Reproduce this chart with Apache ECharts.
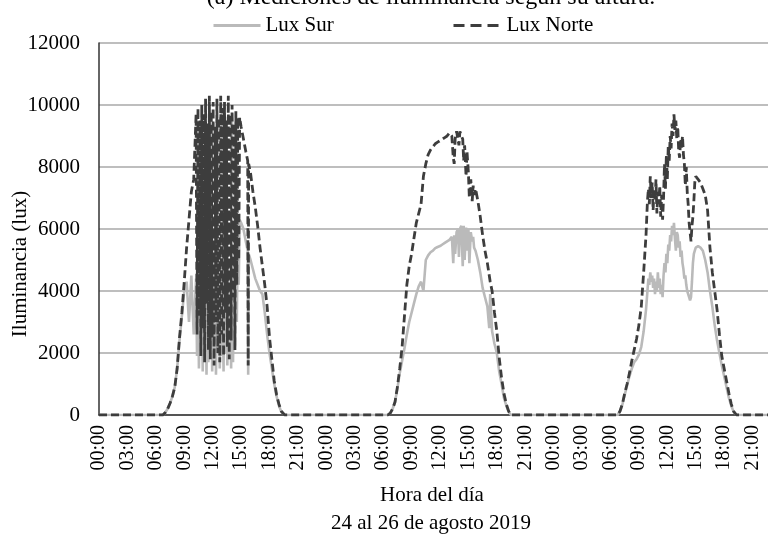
<!DOCTYPE html>
<html>
<head>
<meta charset="utf-8">
<script src="https://cdn.jsdelivr.net/npm/echarts@6/dist/echarts.min.js"></script>
<style>html,body{margin:0;padding:0;background:#fff;}#c{width:768px;height:540px;}</style>
</head>
<body>
<div id="c"></div>
<script>
// ---- data (hours of each day, lux values) ----
const seriesNames = ['Lux Sur', 'Lux Norte'];
const dayOffsets = [0, 24, 48];

const day1Hours = [6.75, 7.0, 7.25, 7.5, 7.75, 8.0, 8.25, 8.5, 8.75, 9.0, 9.25, 9.5, 9.75, 10.0, 10.25,
  10.35, 10.45, 10.55, 10.65, 10.75, 10.85, 10.95, 11.05, 11.15, 11.25, 11.35, 11.45, 11.55, 11.65, 11.75,
  11.85, 11.95, 12.05, 12.15, 12.25, 12.35, 12.45, 12.55, 12.65, 12.75, 12.85, 12.95, 13.05, 13.15, 13.25,
  13.35, 13.45, 13.55, 13.65, 13.75, 13.85, 13.95, 14.05, 14.15, 14.25, 14.35, 14.45, 14.55, 14.65, 14.75, 14.85,
  15.0, 15.25, 15.5, 15.7, 15.75, 15.8, 16.0, 16.25, 16.5, 16.75, 17.0, 17.25, 17.5, 17.75, 18.0, 18.25,
  18.5, 18.75, 19.0, 19.25, 19.6];
const day1Norte = [0, 80, 200, 380, 600, 900, 1500, 2500, 3300, 4300, 5400, 6300, 7200, 7600, 9700,
  2600, 9900, 3200, 9500, 1900, 10000, 2800, 9700, 1700, 10200, 3600, 9400, 2100, 10300, 1800,
  9800, 2500, 10100, 1600, 9300, 3000, 10200, 2000, 9600, 1700, 10300, 2600, 9900, 1900, 10100,
  3300, 9500, 2200, 10300, 1800, 9700, 2400, 10000, 3800, 9400, 2100, 9800, 4200, 9600, 5000, 9600,
  9300, 8900, 8500, 8200, 1600, 8100, 7800, 7200, 6700, 6100, 5400, 4800, 4200, 3500, 2500, 1800,
  1100, 650, 350, 120, 0];
const day1Sur = [0, 80, 200, 380, 600, 900, 1500, 2400, 3200, 4000, 4300, 3000, 4500, 2600, 4400,
  1900, 4400, 1500, 4000, 2300, 4600, 1400, 3800, 2000, 4300, 1300, 5200, 1700, 3900, 2100,
  4500, 1400, 3600, 1800, 5000, 1300, 4200, 2200, 5400, 1500, 3900, 1900, 4700, 1400, 5500,
  2000, 4100, 1600, 4800, 1800, 3700, 1500, 9600, 1700, 5000, 2200, 5600, 3000, 6000, 4200, 6300,
  6200, 6000, 5600, 5300, 1300, 5200, 5000, 4700, 4400, 4200, 4000, 3900, 3300, 2600, 2000, 1500,
  1000, 600, 300, 100, 0];

const day2Hours = [6.5, 6.75, 7.0, 7.25, 7.5, 7.75, 8.0, 8.25, 8.5, 8.75, 9.0, 9.25, 9.5, 9.75, 10.0,
  10.25, 10.5, 10.75, 11.0, 11.25, 11.5, 11.75, 12.0, 12.25, 12.5, 12.75, 13.0, 13.25, 13.4, 13.5,
  13.6, 13.75, 13.9, 14.0, 14.1, 14.25, 14.4, 14.5, 14.6, 14.75, 14.85, 15.0, 15.1, 15.25, 15.4,
  15.5, 15.6, 15.75, 16.0, 16.25, 16.5, 16.75, 17.0, 17.2, 17.3, 17.5, 17.75, 18.0, 18.25, 18.5,
  18.75, 19.0, 19.25, 19.5];
const day2Norte = [0, 60, 200, 420, 900, 1500, 2200, 3200, 4200, 4800, 5200, 5700, 6200, 6500, 6800,
  7700, 8100, 8400, 8550, 8650, 8750, 8800, 8850, 8900, 8950, 9000, 9100, 9000, 8300, 8100,
  8900, 9150, 9100, 8700, 9150, 9000, 8900, 8200, 8700, 7700, 8500, 7800, 7000, 7600, 6900,
  7400, 7100, 7300, 6900, 6400, 5800, 5300, 4900, 4500, 4300, 4000, 3300, 2700, 1850, 1200,
  700, 350, 120, 0];
const day2Sur = [0, 60, 200, 420, 850, 1350, 1750, 2150, 2600, 3000, 3300, 3600, 3900, 4150, 4300,
  4000, 5000, 5150, 5250, 5300, 5380, 5420, 5450, 5500, 5550, 5600, 5650, 5750, 4900, 5800,
  5200, 5900, 6000, 5100, 6000, 6100, 4800, 6100, 5000, 6050, 5300, 6000, 4900, 5900, 5600,
  5750, 5400, 5300, 5000, 4600, 4100, 3800, 3500, 2800, 3900, 2700, 2300, 2000, 1400, 1000,
  550, 300, 100, 0];

const day3Hours = [6.75, 7.0, 7.25, 7.5, 7.75, 8.0, 8.25, 8.5, 8.75, 9.0, 9.25, 9.5, 9.75, 9.9,
  10.0, 10.1, 10.2, 10.3, 10.4, 10.5, 10.6, 10.7, 10.8, 10.9, 11.0, 11.1, 11.2, 11.3, 11.4, 11.5,
  11.6, 11.7, 11.8, 11.9, 12.0, 12.1, 12.2, 12.3, 12.4, 12.5, 12.6, 12.7, 12.8, 12.9, 13.0, 13.1,
  13.2, 13.3, 13.4, 13.5, 13.6, 13.7, 13.8, 13.9, 14.0, 14.1, 14.2, 14.3, 14.4, 14.5, 14.6, 14.7,
  14.8, 14.9, 15.0, 15.25, 15.5, 15.75, 16.0, 16.25, 16.5, 16.75, 17.0, 17.25, 17.5, 17.75, 18.0,
  18.25, 18.5, 18.75, 19.0, 19.3];
const day3Norte = [0, 120, 350, 700, 1000, 1350, 1750, 2100, 2450, 2900, 3500, 4600, 5800, 6900,
  7300, 6800, 7700, 7000, 7500, 6600, 7300, 6900, 7600, 6500, 7200, 6800, 7400, 6400, 7100, 6300,
  7000, 8100, 7300, 8400, 7600, 8700, 8200, 9000, 8600, 9400, 9000, 9700, 9200, 9500, 8900, 9300,
  8500, 8300, 8900, 8600, 9000, 8400, 8100, 7400, 8000, 7200, 6800, 6200, 5900, 5600, 6100, 6400,
  6900, 7500, 7700, 7600, 7500, 7300, 7100, 6600, 5400, 4600, 4000, 3400, 2600, 1900, 1500,
  1100, 700, 350, 120, 0];
const day3Sur = [0, 120, 330, 650, 950, 1250, 1500, 1700, 1800, 1950, 2200, 2700, 3400, 4000,
  4400, 4200, 4600, 4300, 4500, 4100, 4400, 3900, 4300, 4000, 4600, 4100, 4400, 3900, 4200, 3800,
  4500, 4900, 4600, 5200, 4900, 5500, 5300, 5800, 5600, 6100, 5800, 6200, 5700, 5300, 5900, 5800,
  5400, 5600, 5100, 5300, 4900, 4700, 4400, 4500, 4200, 4000, 3900, 3800, 3700, 3800, 4300, 4900,
  5200, 5300, 5400, 5450, 5400, 5300, 5000, 4600, 4000, 3500, 2900, 2400, 2000, 1600, 1250,
  900, 550, 300, 100, 0];

const yTicks = [0, 2000, 4000, 6000, 8000, 10000, 12000];
const xTickStepHours = 3;

// ---- build series points ----
function buildSeries(dayHours, dayVals) {
  const pts = [[0, 0]];
  for (let d = 0; d < dayHours.length; d++) {
    for (let i = 0; i < dayHours[d].length; i++) {
      pts.push([dayHours[d][i] + dayOffsets[d], dayVals[d][i]]);
    }
  }
  pts.push([72, 0]);
  return pts;
}
const hoursByDay = [day1Hours, day2Hours, day3Hours];
const surData = buildSeries(hoursByDay, [day1Sur, day2Sur, day3Sur]);
const norteData = buildSeries(hoursByDay, [day1Norte, day2Norte, day3Norte]);

const FONT = 'Liberation Serif';
const chart = echarts.init(document.getElementById('c'), null, {renderer: 'canvas'});
chart.setOption({
  animation: false,
  backgroundColor: '#fff',
  textStyle: {fontFamily: FONT, color: '#000'},
  grid: {left: 99, top: 43, width: 682, height: 372, containLabel: false, outerBoundsMode: 'none'},
  legend: [
    {data: [seriesNames[0]], left: 207, top: 10, itemWidth: 47, itemHeight: 2, itemGap: 4,
     lineStyle: {width: 3}, textStyle: {fontFamily: FONT, fontSize: 21, color: '#000'}},
    {data: [seriesNames[1]], left: 447, top: 10, itemWidth: 48, itemHeight: 2, itemGap: 4,
     lineStyle: {width: 3, type: [11, 6]}, textStyle: {fontFamily: FONT, fontSize: 21, color: '#000'}}
  ],
  xAxis: {
    type: 'value', min: 0, max: 72, interval: xTickStepHours,
    axisLine: {show: true, onZero: false, lineStyle: {color: '#333', width: 1.5}},
    axisTick: {show: false},
    splitLine: {show: false},
    axisLabel: {
      rotate: 90, margin: 10, fontFamily: FONT, fontSize: 20, color: '#000',
      showMaxLabel: false,
      formatter: function (v) { const h = Math.round(v) % 24; return (h < 10 ? '0' : '') + h + ':00'; }
    }
  },
  yAxis: {
    type: 'value', min: yTicks[0], max: yTicks[yTicks.length - 1], interval: yTicks[1] - yTicks[0],
    axisLine: {show: true, lineStyle: {color: '#333', width: 1.5}},
    axisTick: {show: false},
    splitLine: {show: true, lineStyle: {color: '#a8a8a8', width: 1.5}},
    axisLabel: {margin: 19, fontFamily: FONT, fontSize: 21, color: '#000',
      formatter: function (v) { return String(v); }}
  },
  graphic: [
    {type: 'text', style: {text: '(a) Mediciones de iluminancia según su altura.', x: 431, y: -14,
      textAlign: 'center', font: '24px "Liberation Serif"', fill: '#000'}},
    {type: 'text', style: {text: 'Iluminancia (lux)', x: 0, y: 0, textAlign: 'center', textVerticalAlign: 'middle',
      font: '21px "Liberation Serif"', fill: '#000'}, x: 20, y: 264, rotation: Math.PI / 2},
    {type: 'text', style: {text: 'Hora del día', x: 432, y: 495, textAlign: 'center', textVerticalAlign: 'middle',
      font: '21px "Liberation Serif"', fill: '#000'}},
    {type: 'text', style: {text: '24 al 26 de agosto 2019', x: 431, y: 523, textAlign: 'center', textVerticalAlign: 'middle',
      font: '21px "Liberation Serif"', fill: '#000'}}
  ],
  series: [
    {name: seriesNames[0], type: 'line', data: surData, symbol: 'none', z: 2,
     lineStyle: {color: '#bababa', width: 2.6}, itemStyle: {color: '#bababa'}},
    {name: seriesNames[1], type: 'line', data: norteData, symbol: 'none', z: 3,
     lineStyle: {color: '#3d3d3d', width: 2.8, type: [8, 4]}, itemStyle: {color: '#3d3d3d'}}
  ]
});
</script>
</body>
</html>
